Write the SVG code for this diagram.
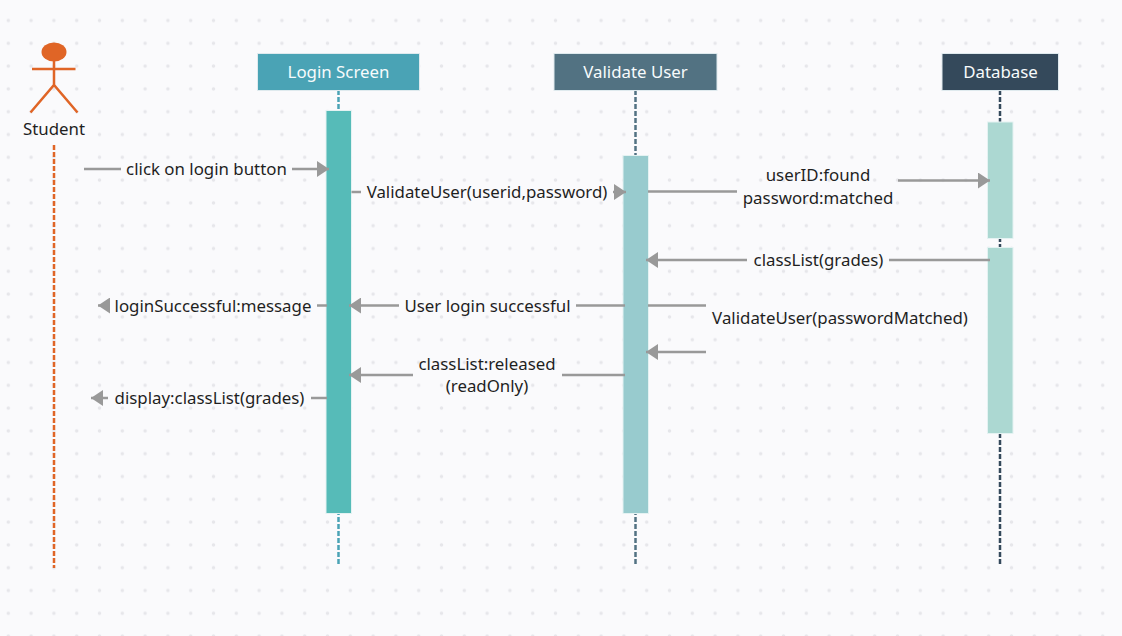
<svg xmlns="http://www.w3.org/2000/svg" width="1122" height="636" viewBox="0 0 1122 636">
<style>
text{font-family:"Noto Sans",sans-serif;font-size:16.85px;fill:#1f1f1f;text-anchor:middle}
.hd{fill:#f7fbfc}
.msg{fill:none;stroke:#999999;stroke-width:2.5}
.life{fill:none;stroke-width:2.500;stroke-dasharray:5 2}
.bar{stroke:#e4f2f2;stroke-width:1}
.head{stroke:#dfeaee;stroke-width:1}
.actor{fill:none;stroke:#e06526;stroke-width:2.5}
</style>
<defs>
<pattern id="dots" width="22.8" height="22.8" patternUnits="userSpaceOnUse" x="-3.1" y="-2.3" ><circle cx="11.4" cy="0" r="1.8" fill="#e6e6ea"/><circle cx="11.4" cy="22.8" r="1.8" fill="#e6e6ea"/></pattern>
<marker id="arr" markerUnits="userSpaceOnUse" markerWidth="14" markerHeight="16" refX="12" refY="8" orient="auto"><path d="M0 0L12 8L0 16Z" fill="#999999"/></marker>
</defs>
<rect width="1122" height="636" fill="#fafafc"/>
<rect width="1122" height="636" fill="url(#dots)"/>
<g id="lifelines">
<path class="life" stroke="#e06526" d="M54 145V568"/>
<path class="life" stroke="#4aa3b5" d="M338.500 90V566"/>
<path class="life" stroke="#527282" d="M635.500 90V566"/>
<path class="life" stroke="#34495b" d="M1000 90V566"/>
</g>
<g id="student">
<ellipse cx="54" cy="52" rx="12.500" ry="9.500" fill="#e06526"/>
<path class="actor" d="M32 69H75.500M54 61V85M30.500 112.500L54 85L77.500 112.500"/>
<text x="54" y="135">Student</text>
</g>
<g id="login-screen">
<rect class="head" x="257.500" y="53.500" width="162" height="37" fill="#4aa3b5"/>
<text class="hd" x="338.500" y="78">Login Screen</text>
<rect class="bar" x="326" y="110.500" width="25.500" height="403" fill="#56bbb8"/>
</g>
<g id="validate-user">
<rect class="head" x="554" y="53.500" width="163" height="37" fill="#527282"/>
<text class="hd" x="635.500" y="78">Validate User</text>
<rect class="bar" x="623" y="155.500" width="25.500" height="358" fill="#98cbce"/>
</g>
<g id="database">
<rect class="head" x="942" y="53.500" width="116.500" height="37" fill="#34495b"/>
<text class="hd" x="1000.500" y="78">Database</text>
<rect class="bar" x="987.500" y="122" width="25.500" height="116.500" fill="#acd8d2"/>
<rect class="bar" x="987.500" y="247.500" width="25.500" height="186" fill="#acd8d2"/>
</g>
<g id="connectors">
<path class="msg" d="M84 169H121"/>
<path class="msg" marker-end="url(#arr)" d="M292 169H329"/>
<path class="msg" d="M351.500 192H361"/>
<path class="msg" marker-end="url(#arr)" d="M613 192H626"/>
<path class="msg" d="M648 191.500H737"/>
<path class="msg" marker-end="url(#arr)" d="M898 180.500H990"/>
<path class="msg" d="M990 260H889"/>
<path class="msg" marker-end="url(#arr)" d="M747 260H646"/>
<path class="msg" d="M625 305.500H576"/>
<path class="msg" marker-end="url(#arr)" d="M399 305.500H349"/>
<path class="msg" d="M327 305.500H317"/>
<path class="msg" marker-end="url(#arr)" d="M109 305.500H98"/>
<path class="msg" d="M648 305.500H706"/>
<path class="msg" marker-end="url(#arr)" d="M706 352H646"/>
<path class="msg" d="M625 375H562"/>
<path class="msg" marker-end="url(#arr)" d="M413 375H349"/>
<path class="msg" d="M327 398H311"/>
<path class="msg" marker-end="url(#arr)" d="M108 398H91"/>
</g>
<g id="labels">
<text x="206.500" y="175">click on login button</text>
<text x="487" y="198">ValidateUser(userid,password)</text>
<text x="818" y="181">userID:found</text>
<text x="818" y="203.500">password:matched</text>
<text x="818.500" y="266">classList(grades)</text>
<text x="487.500" y="311.500">User login successful</text>
<text x="213" y="311.500">loginSuccessful:message</text>
<text x="840" y="323.500">ValidateUser(passwordMatched)</text>
<text x="487" y="369.500">classList:released</text>
<text x="487" y="392">(readOnly)</text>
<text x="209.500" y="403.500">display:classList(grades)</text>
</g>
</svg>
